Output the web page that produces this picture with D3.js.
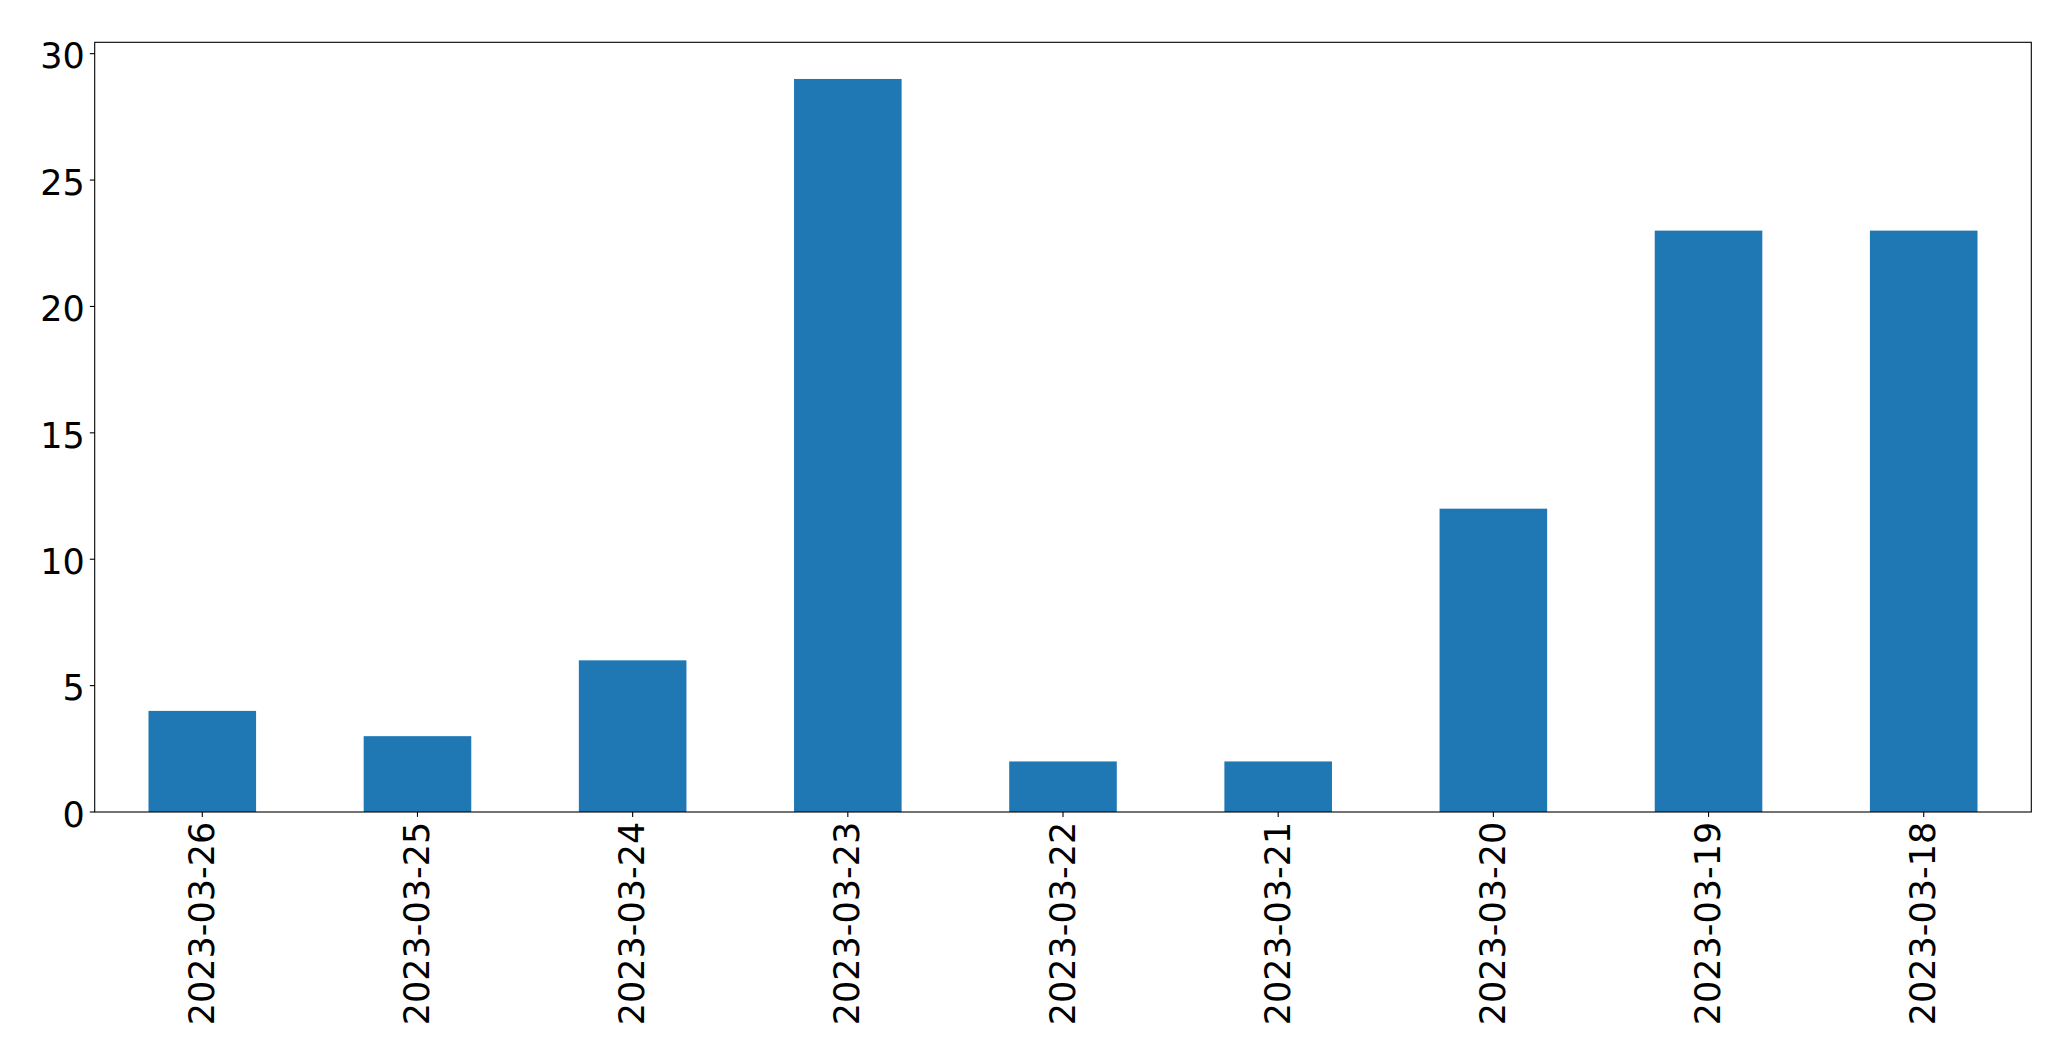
<!DOCTYPE html>
<html>
<head>
<meta charset="utf-8">
<script src="https://cdn.jsdelivr.net/npm/d3@7"></script>
<style>
  html, body { margin: 0; padding: 0; background: #fff; }
  svg text { font-family: "DejaVu Sans", sans-serif; fill: #000; }
</style>
</head>
<body>
<div id="chart"></div>
<script>
// dates as they appear on the x axis (newest first)
var dates = ["2023-03-26", "2023-03-25", "2023-03-24", "2023-03-23", "2023-03-22",
             "2023-03-21", "2023-03-20", "2023-03-19", "2023-03-18"];
var counts = [4, 3, 6, 29, 2, 2, 12, 23, 23];
var yTicks = [0, 5, 10, 15, 20, 25, 30];

var width = 2071,
    height = 1064,
    margin = {top: 42.3, left: 94.7, bottom: 1064 - 812, right: 2071 - 2031.3};

var chartWidth = width - (margin.left + margin.right),
    chartHeight = height - (margin.top + margin.bottom);

var fontSize = 35,
    tickLen = 4.9,
    tickPad = 4.9;

var svg = d3.select("#chart").append("svg")
    .attr("width", width)
    .attr("height", height);

var g = svg.append("g")
    .attr("transform", "translate(" + [margin.left, margin.top] + ")");

// pandas-style bar layout: each category at an integer, xlim (-0.5, n-0.5), bar width 0.5
var x = d3.scaleLinear()
    .domain([-0.5, dates.length - 0.5])
    .range([0, chartWidth]);

var yMax = d3.max(counts) * 1.05;
var y = d3.scaleLinear()
    .domain([0, yMax])
    .range([chartHeight, 0]);

g.selectAll("rect.bar")
    .data(counts)
    .enter().append("rect")
    .attr("class", "bar")
    .attr("x", function(d, i) { return x(i - 0.25); })
    .attr("width", function(d, i) { return x(i + 0.25) - x(i - 0.25); })
    .attr("y", function(d) { return y(d); })
    .attr("height", function(d) { return y(0) - y(d); })
    .attr("fill", "#1f77b4");

// frame
g.append("rect")
    .attr("x", 0).attr("y", 0)
    .attr("width", chartWidth).attr("height", chartHeight)
    .attr("fill", "none")
    .attr("stroke", "#000")
    .attr("stroke-width", 1.1);

// y axis
var yAxis = g.append("g").attr("class", "y-axis");
var yt = yAxis.selectAll("g.tick")
    .data(yTicks)
    .enter().append("g")
    .attr("class", "tick")
    .attr("transform", function(d) { return "translate(0," + y(d) + ")"; });
yt.append("line")
    .attr("x1", -tickLen).attr("x2", 0)
    .attr("stroke", "#000").attr("stroke-width", 1.1);
yt.append("text")
    .attr("x", -tickLen - tickPad)
    .attr("dy", "0.42em")
    .attr("text-anchor", "end")
    .attr("font-size", fontSize)
    .text(function(d) { return d; });

// x axis
var xAxis = g.append("g").attr("class", "x-axis")
    .attr("transform", "translate(0," + chartHeight + ")");
var xt = xAxis.selectAll("g.tick")
    .data(dates)
    .enter().append("g")
    .attr("class", "tick")
    .attr("transform", function(d, i) { return "translate(" + x(i) + ",0)"; });
xt.append("line")
    .attr("y1", 0).attr("y2", tickLen)
    .attr("stroke", "#000").attr("stroke-width", 1.1);
xt.append("text")
    .attr("transform", "translate(0," + (tickLen + tickPad) + ") rotate(-90)")
    .attr("dy", "0.33em")
    .attr("text-anchor", "end")
    .attr("font-size", fontSize)
    .text(function(d) { return d; });
</script>
</body>
</html>
